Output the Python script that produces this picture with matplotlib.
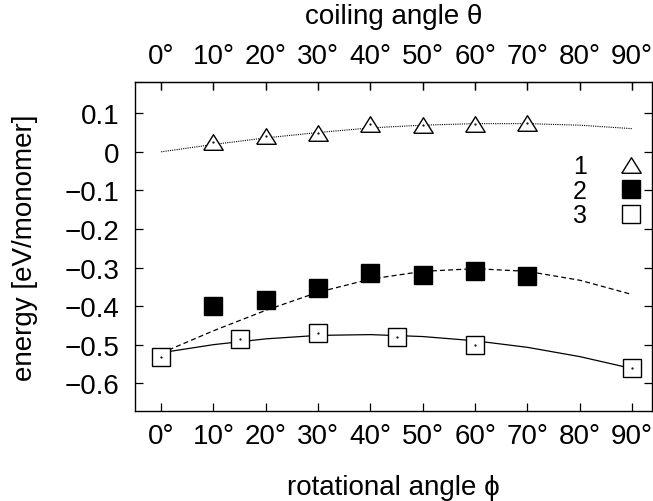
import matplotlib
matplotlib.use("Agg")
import matplotlib.pyplot as plt

plt.rcParams['font.family'] = ['Liberation Sans', 'DejaVu Sans']

# --- data ---
x1 = [10, 20, 30, 40, 50, 60, 70]
y1 = [0.026, 0.042, 0.048, 0.073, 0.070, 0.073, 0.075]

x2 = [10, 20, 30, 40, 50, 60, 70]
y2 = [-0.401, -0.384, -0.352, -0.314, -0.320, -0.308, -0.321]

x3 = [0, 15, 30, 45, 60, 90]
y3 = [-0.531, -0.485, -0.471, -0.481, -0.501, -0.560]

# fitted curves
cx = [0, 10, 20, 30, 40, 50, 60, 70, 80, 90]
c1 = [0.000, 0.019, 0.036, 0.050, 0.062, 0.069, 0.073, 0.073, 0.069, 0.060]
c2 = [-0.522, -0.464, -0.411, -0.364, -0.330, -0.310, -0.303, -0.310, -0.333, -0.370]
c3 = [-0.521, -0.500, -0.485, -0.476, -0.474, -0.479, -0.490, -0.507, -0.531, -0.562]

xticks = [0, 10, 20, 30, 40, 50, 60, 70, 80, 90]
xticklabels = [f"{v}°" for v in xticks]
yticks = [0.1, 0, -0.1, -0.2, -0.3, -0.4, -0.5, -0.6]
yticklabels = ["0.1", "0", "\u22120.1", "\u22120.2", "\u22120.3", "\u22120.4", "\u22120.5", "\u22120.6"]
labels = ["1", "2", "3"]

FS = 20

fig = plt.figure(figsize=(6.53, 5.02), dpi=100)
ax = fig.add_axes([0.2067, 0.1793, 0.7918, 0.6554])

ax.plot(cx, c1, color='black', lw=0.8, ls=(0, (1, 1)))
ax.plot(cx, c2, color='black', lw=0.9, ls=(0, (4, 2.5)))
ax.plot(cx, c3, color='black', lw=0.9, ls='-')

tri = [(-1, -0.8), (1, -0.8), (0, 0.8), (-1, -0.8)]
h1, = ax.plot(x1, y1, ls='none', marker=tri, ms=14, mfc='white', mec='black', mew=1.0, label=labels[0])
h2, = ax.plot(x2, y2, ls='none', marker='s', ms=13.5, mfc='black', mec='black', mew=1.0, label=labels[1])
h3, = ax.plot(x3, y3, ls='none', marker='s', ms=13.5, mfc='white', mec='black', mew=1.0, label=labels[2])
ax.plot(x1, y1, ls='none', marker='.', ms=1.2, color='black')
ax.plot(x3, y3, ls='none', marker='.', ms=1.2, color='black')

ax.set_xlim(-5, 93.8)
ax.set_ylim(-0.672, 0.181)

ax.set_xticks(xticks)
ax.set_xticklabels(xticklabels, fontsize=FS)
ax.set_yticks(yticks)
ax.set_yticklabels(yticklabels, fontsize=FS)
ax.tick_params(direction='in', length=6, width=0.9, top=True, right=True)
ax.tick_params(axis='x', pad=9)
ax.tick_params(axis='y', pad=11)

for s in ax.spines.values():
    s.set_linewidth(1.0)

top = ax.secondary_xaxis('top')
top.set_xticks(xticks)
top.set_xticklabels(xticklabels, fontsize=FS)
top.tick_params(direction='in', length=6, width=0.9, pad=9)
top.set_xlabel("coiling angle \u03b8", fontsize=FS, labelpad=15)

ax.set_xlabel("rotational angle \u03d5", fontsize=FS, labelpad=18)
ax.set_ylabel("energy [eV/monomer]", fontsize=FS, labelpad=19)

leg = ax.legend(handles=[h1, h2, h3], loc='upper right', bbox_to_anchor=(1.005, 0.81),
                markerfirst=False, frameon=False, fontsize=18, handlelength=1.1,
                handletextpad=1.2, labelspacing=0.02, borderaxespad=0)

fig.savefig("out.png", dpi=100)
